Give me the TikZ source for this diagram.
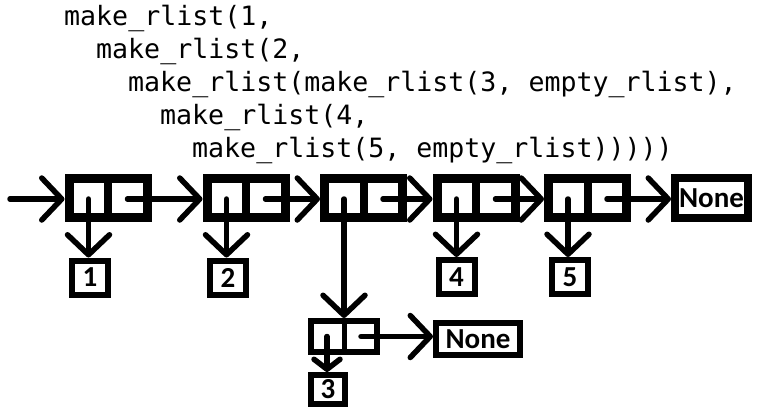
\documentclass[tikz,border=0pt]{standalone}
\usepackage{fontspec}
\setmonofont{DejaVu Sans Mono}
\newfontfamily\lblfont{Carlito}
\usetikzlibrary{arrows.meta,calc}
\begin{document}
\begin{tikzpicture}[x=1pt,y=-1pt,
  code/.style={anchor=base west, inner sep=0pt, font=\fontsize{26.6}{30}\selectfont\ttfamily},
  cons/.style={draw, line width=9pt, minimum width=78pt, minimum height=39pt, inner sep=0pt},
  divider/.style={line width=8pt},
  subcons/.style={draw, line width=6pt, minimum width=66pt, minimum height=31pt, inner sep=0pt},
  subdivider/.style={line width=5pt},
  lbl/.style={draw, line width=6pt, inner sep=0pt, font=\lblfont\bfseries\fontsize{29}{32}\selectfont},
  ptr/.style={line width=5.5pt, line cap=round, -{Straight Barb[length=20pt,width=42pt,round]}},
  smallptr/.style={line width=5.5pt, line cap=round, -{Straight Barb[length=10pt,width=26pt,round]}}
]
\useasboundingbox (0,0) rectangle (758,408);
\fill[white] (0,0) rectangle (758,408);

% code text
\node[code] (t1) at (64,25) {make\_rlist(1,};
\node[code] (t2) at (96,58.2) {make\_rlist(2,};
\node[code] (t3) at (128,91.4) {make\_rlist(make\_rlist(3, empty\_rlist),};
\node[code] (t4) at (160,124.6) {make\_rlist(4,};
\node[code] (t5) at (192,157.8) {make\_rlist(5, empty\_rlist)))))};

% cons cells
\node[cons] (c1) at (108,198) {};
\node[cons] (c2) at (246,198) {};
\node[cons] (c3) at (363.5,198) {};
\node[cons] (c4) at (476,198) {};
\node[cons] (c5) at (587.5,198) {};
\foreach \c in {c1,c2,c3,c4,c5}{
  \draw[divider] (\c.north) -- (\c.south);
  \coordinate (\c l) at ($(\c.center)+(-19.5,1)$);
  \coordinate (\c r) at ($(\c.center)+(19.5,1)$);
}
\node[lbl, line width=8pt, minimum width=73pt, minimum height=40pt] (none1) at (711.5,198) {None};

% number boxes
\node[lbl, minimum width=36pt, minimum height=34pt] (n1) at (90,277.5) {1};
\node[lbl, minimum width=36pt, minimum height=34pt] (n2) at (228,277.5) {2};
\node[lbl, minimum width=36pt, minimum height=34pt] (n4) at (456.5,277) {4};
\node[lbl, minimum width=36pt, minimum height=34pt] (n5) at (570,277) {5};

% lower cons cell
\node[subcons] (d) at (344,336.5) {};
\draw[subdivider] (d.north) -- (d.south);
\coordinate (dl) at ($(d.center)+(-17,0)$);
\coordinate (dr) at ($(d.center)+(17,0)$);
\node[lbl, minimum width=34pt, minimum height=29pt] (n3) at (328,389.5) {3};
\node[lbl, minimum width=84pt, minimum height=32pt] (none2) at (478,339) {None};

% pointers
\coordinate (start) at (10,199);
\draw[ptr] (start) -- (start -| c1.west);
\draw[ptr] (c1r) -- (c1r -| c2.west);
\draw[ptr] (c2r) -- (c2r -| c3.west);
\draw[ptr] (c3r) -- (c3r -| c4.west);
\draw[ptr] (c4r) -- (c4r -| c5.west);
\draw[ptr] (c5r) -- (c5r -| none1.west);
\draw[ptr] (c1l) -- (c1l |- n1.north);
\draw[ptr] (c2l) -- (c2l |- n2.north);
\draw[ptr] (c4l) -- (c4l |- n4.north);
\draw[ptr] (c5l) -- (c5l |- n5.north);
\draw[ptr] (c3l) -- (c3l |- d.north);
\draw[smallptr] (dl) -- (dl |- n3.north);
\draw[ptr] (dr) -- (dr -| none2.west);
\end{tikzpicture}
\end{document}
